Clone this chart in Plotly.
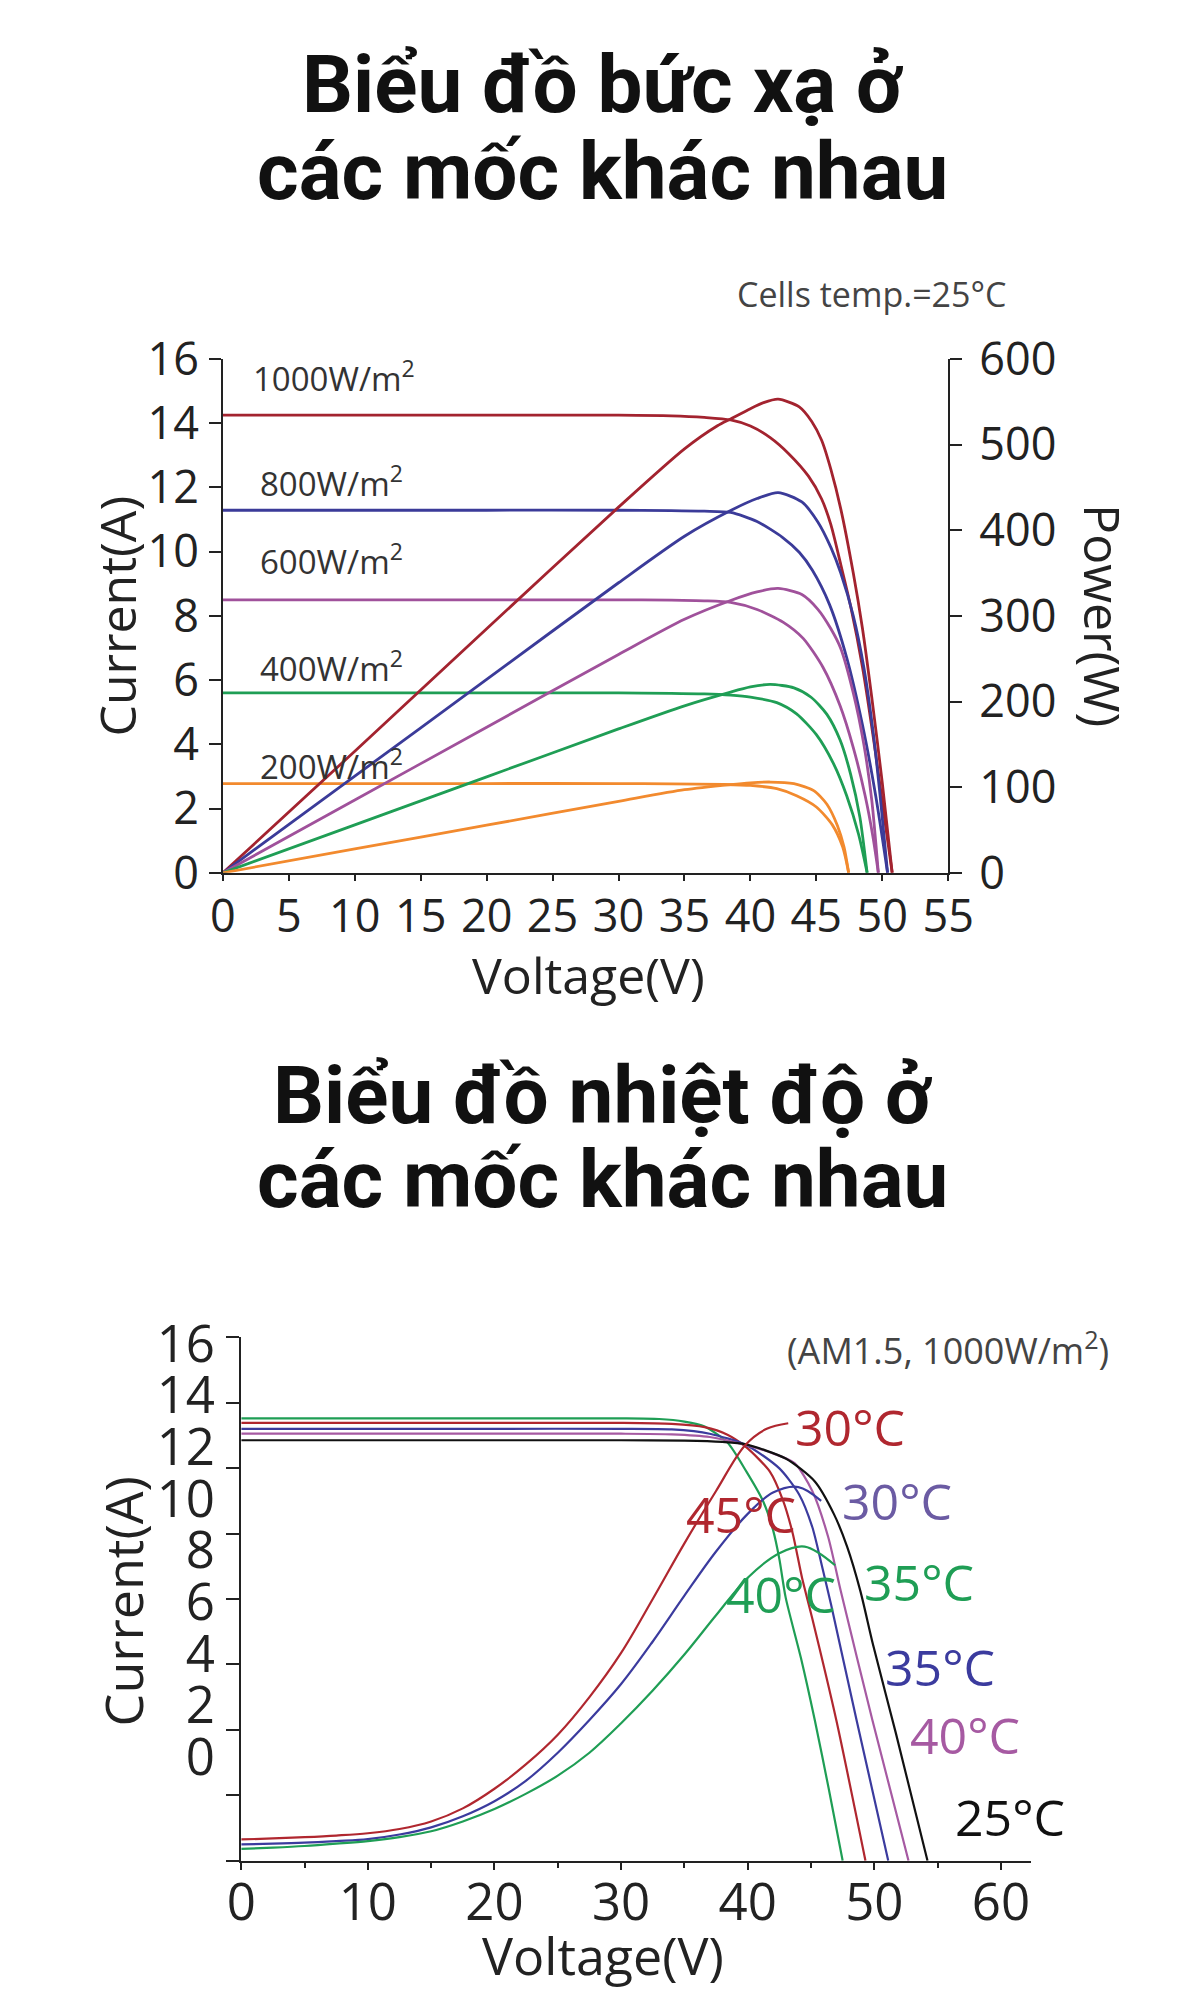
import plotly.graph_objects as go

# ---------------- Top chart: irradiance (I-V and P-V) ----------------
irr_labels = ["1000W/m<sup>2</sup>", "800W/m<sup>2</sup>", "600W/m<sup>2</sup>", "400W/m<sup>2</sup>", "200W/m<sup>2</sup>"]
irr_colors = ["#a3232f", "#3b3b99", "#a0519b", "#1f9e55", "#f28a2e"]

v_iv_1000 = [0, 10, 20, 30, 34, 36.5, 38.5, 40, 41.5, 42.9, 44.4, 45.4, 46.1, 46.85, 47.6, 48.5, 49.5, 50.2, 50.75]
i_1000 = [14.25, 14.25, 14.25, 14.25, 14.23, 14.18, 14.1, 13.91, 13.55, 13.05, 12.35, 11.64, 10.84, 9.6, 8.3, 6.4, 3.7, 1.6, 0]
v_p_1000 = [0, 10, 20, 30, 35, 37.5, 38.5, 40, 41, 42.1, 43.7, 44.65, 45.4, 46.1, 46.85, 47.8, 48.5, 49.2, 50.0, 50.75]
p_1000 = [0, 142, 285, 427, 495, 522, 530, 542, 549, 553, 544, 527, 505, 471, 425, 350, 285, 205, 105, 0]

v_iv_800 = [0, 10, 20, 30, 34, 36.5, 38.5, 40.5, 42.45, 43.7, 44.7, 46.0, 47.3, 48.5, 49.5, 50.4]
i_800 = [11.29, 11.29, 11.29, 11.29, 11.28, 11.26, 11.22, 10.94, 10.44, 9.98, 9.42, 8.35, 6.7, 4.6, 2.4, 0]
v_p_800 = [0, 10, 20, 30, 35, 38.5, 40.5, 42.1, 43.9, 45.1, 46.1, 46.85, 47.8, 48.6, 49.3, 49.9, 50.4]
p_800 = [0, 112.9, 225.8, 338.7, 393, 423, 437, 444, 433, 410, 380, 350, 300, 240, 165, 80, 0]

v_iv_600 = [0, 10, 20, 30, 34, 36.5, 38.5, 40.5, 42.5, 44, 45.5, 46.8, 47.8, 48.7, 49.3, 49.7]
i_600 = [8.5, 8.5, 8.5, 8.5, 8.49, 8.47, 8.42, 8.2, 7.8, 7.3, 6.4, 5.2, 3.9, 2.4, 1.1, 0]
v_p_600 = [0, 10, 20, 30, 35, 38.5, 40.5, 42.1, 43.9, 45.1, 46.1, 46.85, 47.8, 48.6, 49.2, 49.7]
p_600 = [0, 85, 170, 255, 296, 318, 328, 332, 325, 308, 285, 262, 210, 150, 85, 0]

v_iv_400 = [0, 10, 20, 30, 34, 36.5, 38.5, 40, 42, 43.5, 45, 46.3, 47.3, 48.2, 48.85]
i_400 = [5.6, 5.6, 5.6, 5.6, 5.59, 5.57, 5.53, 5.47, 5.3, 4.95, 4.3, 3.4, 2.4, 1.2, 0]
v_p_400 = [0, 10, 20, 30, 35, 38.5, 40, 41.5, 43.3, 44.6, 45.8, 46.8, 47.6, 48.3, 48.85]
p_400 = [0, 56, 112, 168, 195, 211, 217, 220, 216, 205, 185, 155, 115, 65, 0]

v_iv_200 = [0, 10, 20, 30, 34, 38, 40, 42, 43.5, 45, 46.2, 47.0, 47.45]
i_200 = [2.78, 2.78, 2.78, 2.78, 2.77, 2.75, 2.72, 2.62, 2.4, 2.05, 1.5, 0.8, 0]
v_p_200 = [0, 10, 20, 30, 35, 38.5, 40, 41.5, 43.3, 44.8, 45.8, 46.6, 47.1, 47.45]
p_200 = [0, 27.8, 55.6, 83.4, 97, 103, 105, 106, 104, 96, 80, 55, 30, 0]

top_x_ticks = [0, 5, 10, 15, 20, 25, 30, 35, 40, 45, 50, 55]
top_y_ticks = [0, 2, 4, 6, 8, 10, 12, 14, 16]
top_y2_ticks = [0, 100, 200, 300, 400, 500, 600]

# ---------------- Bottom chart: temperature ----------------
temp_colors = {"green": "#1f9e55", "red": "#b0272f", "blue": "#3b3b9e", "purple": "#a65aa2", "black": "#111111"}

bv_green = [0, 10, 20, 30, 33, 35, 36.6, 38.4, 39.9, 41.2, 42.0, 42.5, 43.0, 44.2, 45.3, 46.4, 47.5]
bi_green = [13.52, 13.52, 13.52, 13.52, 13.5, 13.42, 13.27, 12.78, 11.89, 11.0, 10.11, 9.22, 8.04, 6.2, 4.29, 2.2, 0]
bv_red = [0, 10, 20, 30, 34, 36.6, 38.4, 39.9, 41.75, 42.8, 43.55, 44.3, 45.1, 47.0, 49.3]
bi_red = [13.38, 13.38, 13.38, 13.38, 13.35, 13.25, 13.02, 12.63, 11.89, 11.0, 10.01, 8.63, 7.4, 4.29, 0]
bv_blue = [0, 10, 20, 30, 34, 37, 39.9, 42.5, 44.05, 45.1, 45.85, 46.6, 48.6, 51.1]
bi_blue = [13.2, 13.2, 13.2, 13.2, 13.18, 13.05, 12.7, 11.99, 11.2, 10.2, 9.03, 7.8, 4.29, 0]
bv_purple = [0, 10, 20, 30, 34, 37, 39.9, 42, 43.7, 45.1, 46.35, 47.35, 49.85, 52.7]
bi_purple = [13.05, 13.05, 13.05, 13.05, 13.03, 12.95, 12.7, 12.45, 12.15, 11.3, 9.9, 8.24, 4.29, 0]
bv_black = [0, 10, 20, 30, 35, 38, 39.8, 43.0, 45.3, 46.8, 47.85, 48.9, 49.9, 51.7, 54.2]
bi_black = [12.85, 12.85, 12.85, 12.85, 12.84, 12.8, 12.73, 12.29, 11.59, 10.6, 9.6, 8.24, 6.6, 3.9, 0]

pv_red = [0, 2.5, 5, 7.5, 10, 12.5, 15, 17.5, 20, 22.5, 25, 27.5, 30, 32.5, 35, 37.5, 39.8, 41.5, 43.2]
pp_red = [0.65, 0.68, 0.72, 0.77, 0.84, 0.97, 1.2, 1.6, 2.2, 2.95, 3.85, 5.0, 6.35, 8.0, 9.7, 11.3, 12.7, 13.2, 13.37]
pv_blue = [0, 2.5, 5, 7.5, 10, 12.5, 15, 17.5, 20, 22.5, 25, 27.5, 30, 32.5, 35, 37.5, 40, 42, 44, 45.8]
pp_blue = [0.5, 0.52, 0.55, 0.6, 0.66, 0.8, 1.02, 1.36, 1.82, 2.45, 3.3, 4.3, 5.4, 6.7, 8.1, 9.45, 10.6, 11.25, 11.42, 11.0]
pv_green = [0, 2.5, 5, 7.5, 10, 12.5, 15, 17.5, 20, 22.5, 25, 27.5, 30, 32.5, 35, 37.5, 40, 42.5, 44.5, 46.9]
pp_green = [0.36, 0.4, 0.45, 0.52, 0.6, 0.72, 0.9, 1.2, 1.58, 2.05, 2.6, 3.3, 4.2, 5.2, 6.3, 7.5, 8.65, 9.4, 9.6, 9.03]

bot_x_ticks = [0, 10, 20, 30, 40, 50, 60]
bot_x_minor = [5, 15, 25, 35, 45, 55]
bot_y_ticks = [0, 2, 4, 6, 8, 10, 12, 14, 16]
bot_y_labels = [0, 2, 4, 6, 8, 10, 12, 14, 16]

temp_labels = ["30°C", "30°C", "45°C", "35°C", "40°C", "35°C", "40°C", "25°C"]
temp_label_colors = ["#b0272f", "#6b5ba3", "#b0272f", "#1f9e55", "#1f9e55", "#3b3b9e", "#a65aa2", "#111111"]

fig = go.Figure()

iv_sets = [(v_iv_1000, i_1000), (v_iv_800, i_800), (v_iv_600, i_600), (v_iv_400, i_400), (v_iv_200, i_200)]
p_sets = [(v_p_1000, p_1000), (v_p_800, p_800), (v_p_600, p_600), (v_p_400, p_400), (v_p_200, p_200)]
for k in range(5):
    c = irr_colors[k]
    fig.add_trace(go.Scatter(x=iv_sets[k][0], y=iv_sets[k][1], mode="lines", xaxis="x", yaxis="y",
                             line=dict(color=c, width=2.8, shape="spline", smoothing=0.7),
                             showlegend=False, hoverinfo="skip"))
    fig.add_trace(go.Scatter(x=p_sets[k][0], y=p_sets[k][1], mode="lines", xaxis="x", yaxis="y2",
                             line=dict(color=c, width=2.8, shape="spline", smoothing=0.7),
                             showlegend=False, hoverinfo="skip"))

bot_iv = [(bv_green, bi_green, "green"), (bv_red, bi_red, "red"), (bv_blue, bi_blue, "blue"),
          (bv_purple, bi_purple, "purple"), (bv_black, bi_black, "black")]
for vx, iy, cn in bot_iv:
    fig.add_trace(go.Scatter(x=vx, y=iy, mode="lines", xaxis="x2", yaxis="y3",
                             line=dict(color=temp_colors[cn], width=2.2, shape="spline", smoothing=0.7),
                             showlegend=False, hoverinfo="skip"))
bot_p = [(pv_red, pp_red, "red"), (pv_blue, pp_blue, "blue"), (pv_green, pp_green, "green")]
for vx, py, cn in bot_p:
    fig.add_trace(go.Scatter(x=vx, y=py, mode="lines", xaxis="x2", yaxis="y3",
                             line=dict(color=temp_colors[cn], width=2.2, shape="spline", smoothing=1.0),
                             showlegend=False, hoverinfo="skip"))
# carrier for the label axis
fig.add_trace(go.Scatter(x=[0], y=[0], mode="markers", xaxis="x2", yaxis="y4",
                         marker=dict(opacity=0), showlegend=False, hoverinfo="skip"))

tickfont_top = dict(family="Open Sans", size=45, color="#222")
tickfont_bot = dict(family="Open Sans", size=51, color="#222")
base = dict(showline=True, linecolor="#222", linewidth=2, ticks="outside", tickwidth=2,
            tickcolor="#222", showgrid=False, zeroline=False)

fig.update_layout(
    width=1200, height=2000, margin=dict(l=0, r=0, t=0, b=0),
    paper_bgcolor="white", plot_bgcolor="white",
    xaxis=dict(domain=[0.1725, 0.7983], range=[0, 55], anchor="y", tickvals=top_x_ticks,
               tickfont=tickfont_top, ticklen=6, ticklabelstandoff=-3, **base),
    yaxis=dict(domain=[0.5705, 0.8355], range=[0, 16], anchor="x", tickvals=top_y_ticks,
               tickfont=tickfont_top, ticklen=12, ticklabelstandoff=1, **base),
    yaxis2=dict(overlaying="y", side="right", range=[0, 600], anchor="x", tickvals=top_y2_ticks,
                tickfont=tickfont_top, ticklen=12, ticklabelstandoff=8, **base),
    xaxis2=dict(domain=[0.1883, 0.870], range=[0, 62.4], anchor="y3", tickvals=bot_x_ticks,
                tickfont=tickfont_bot, ticklen=7, ticklabelstandoff=-11,
                minor=dict(tickvals=bot_x_minor, ticks="outside", ticklen=5, tickwidth=2, tickcolor="#222",
                           showgrid=False), **base),
    yaxis3=dict(domain=[0.061, 0.331], range=[0, 16], anchor="x2", tickvals=bot_y_ticks,
                showticklabels=False, ticklen=13, **base),
    yaxis4=dict(overlaying="y3", side="left", range=[-4.015, 16.25], anchor="x2", tickvals=bot_y_labels,
                showline=False, showgrid=False, zeroline=False, ticks="outside", ticklen=13,
                tickcolor="rgba(0,0,0,0)", tickfont=tickfont_bot, ticklabelstandoff=2),
)

ann = []
title_font = dict(family="Roboto", size=80, color="#111", weight="bold")
ann.append(dict(text="Biểu đồ bức xạ ở", x=0.5, y=1 - 46 / 2000, font=title_font))
ann.append(dict(text="các mốc khác nhau", x=0.5, y=1 - 136 / 2000, font=title_font))
ann.append(dict(text="Biểu đồ nhiệt độ ở", x=0.5, y=1 - 1089 / 2000, font=title_font))
ann.append(dict(text="các mốc khác nhau", x=0.5, y=1 - 1176 / 2000, font=title_font))
for a in ann:
    a.update(xref="paper", yref="paper", showarrow=False, xanchor="center", yanchor="middle")

small_font = dict(family="Open Sans", size=34, color="#444")
ann.append(dict(text="Cells temp.=25°C", xref="paper", yref="paper", x=878 / 1200, y=1 - 262 / 2000,
                showarrow=False, font=small_font, xanchor="center", yanchor="middle"))
axis_font = dict(family="Open Sans", size=50, color="#222")
ann.append(dict(text="Current(A)", xref="paper", yref="paper", x=97 / 1200, y=1 - 594 / 2000, textangle=-90,
                showarrow=False, font=axis_font, xanchor="center", yanchor="middle"))
ann.append(dict(text="Power(W)", xref="paper", yref="paper", x=1118 / 1200, y=1 - 594 / 2000, textangle=90,
                showarrow=False, font=axis_font, xanchor="center", yanchor="middle"))
ann.append(dict(text="Voltage(V)", xref="paper", yref="paper", x=585 / 1200, y=1 - 964 / 2000,
                showarrow=False, font=axis_font, xanchor="center", yanchor="middle"))
axis_font_b = dict(family="Open Sans", size=52, color="#222")
ann.append(dict(text="Current(A)", xref="paper", yref="paper", x=103 / 1200, y=1 - 1610 / 2000, textangle=-90,
                showarrow=False, font=axis_font_b, xanchor="center", yanchor="middle"))
ann.append(dict(text="Voltage(V)", xref="paper", yref="paper", x=601 / 1200, y=1 - 1975 / 2000,
                showarrow=False, font=axis_font_b, xanchor="center", yanchor="middle"))

irr_label_pos = [(2.12, 15.46), (2.64, 12.2), (2.64, 9.75), (2.64, 6.43), (2.64, 3.38)]
for k in range(5):
    ann.append(dict(text=irr_labels[k], xref="x", yref="y", x=irr_label_pos[k][0], y=irr_label_pos[k][1],
                    showarrow=False, xanchor="left", yanchor="middle",
                    font=dict(family="Open Sans", size=33, color="#333")))

ann.append(dict(text="(AM1.5, 1000W/m<sup>2</sup>)", xref="x2", yref="y3", x=55.8, y=15.64, showarrow=False,
                xanchor="center", yanchor="middle", font=dict(family="Open Sans", size=36, color="#444")))
temp_label_pos = [(48.1, 13.27), (51.8, 11.0), (39.45, 10.6), (53.5, 8.53), (42.65, 8.15), (55.15, 5.93),
                  (57.2, 3.85), (60.7, 1.33)]
for k in range(len(temp_labels)):
    ann.append(dict(text=temp_labels[k], xref="x2", yref="y3", x=temp_label_pos[k][0], y=temp_label_pos[k][1],
                    showarrow=False, xanchor="center", yanchor="middle",
                    font=dict(family="Open Sans", size=50, color=temp_label_colors[k])))

fig.update_layout(annotations=ann)
fig.write_html("out.html")
